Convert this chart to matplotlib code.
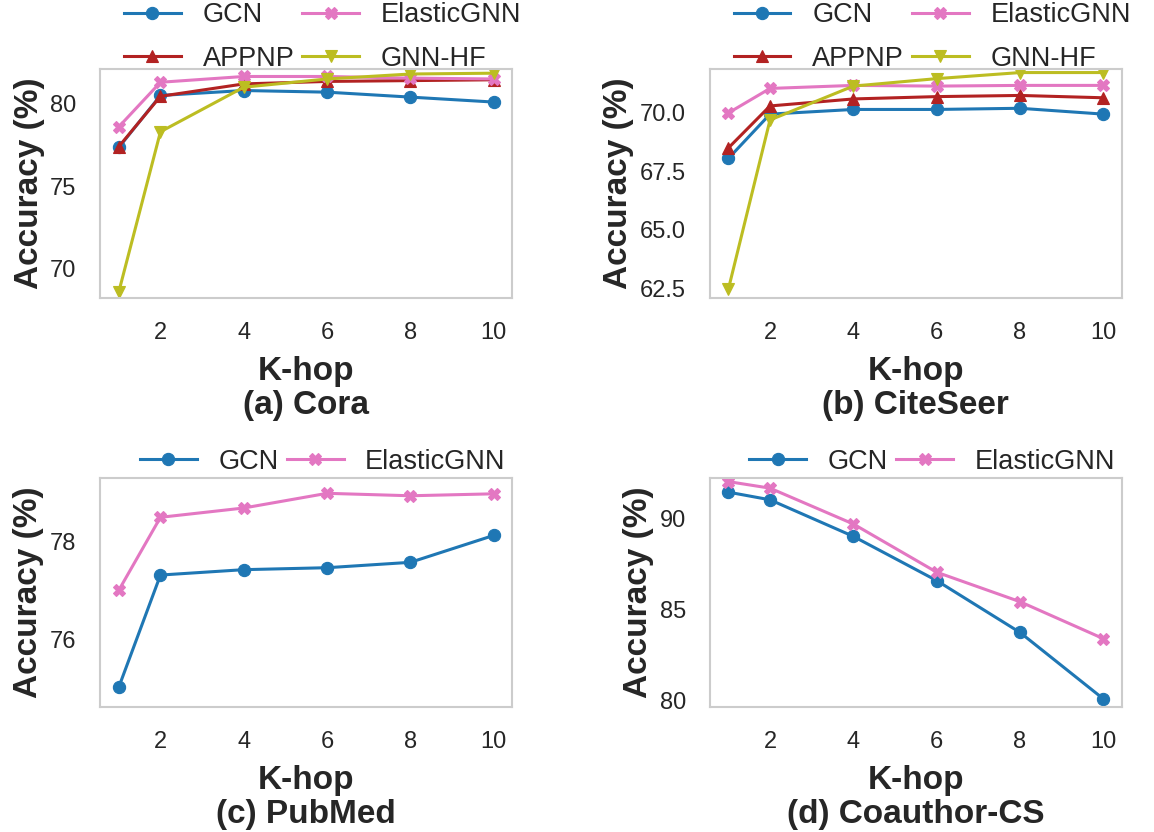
import matplotlib
matplotlib.use("Agg")
import matplotlib.pyplot as plt

# hop counts on the x axis
k_hops = [1, 2, 4, 6, 8, 10]

# accuracy (%) per dataset
cora_gcn = [77.35, 80.5, 80.8, 80.7, 80.4, 80.1]
cora_appnp = [77.4, 80.45, 81.2, 81.35, 81.4, 81.45]
cora_elastic = [78.6, 81.3, 81.65, 81.65, 81.55, 81.5]
cora_gnnhf = [68.6, 78.3, 81.0, 81.5, 81.8, 81.85]

citeseer_gcn = [68.05, 69.95, 70.15, 70.15, 70.2, 69.95]
citeseer_appnp = [68.5, 70.3, 70.6, 70.7, 70.75, 70.65]
citeseer_elastic = [70.0, 71.05, 71.18, 71.15, 71.18, 71.18]
citeseer_gnnhf = [62.45, 69.7, 71.15, 71.47, 71.73, 71.73]

pubmed_gcn = [75.02, 77.31, 77.42, 77.46, 77.57, 78.12]
pubmed_elastic = [77.0, 78.49, 78.68, 78.98, 78.93, 78.97]

cs_gcn = [91.46, 91.04, 89.03, 86.6, 83.75, 80.1]
cs_elastic = [92.04, 91.68, 89.71, 87.06, 85.44, 83.41]

titles = ["(a) Cora", "(b) CiteSeer", "(c) PubMed", "(d) Coauthor-CS"]
xticks = [2, 4, 6, 8, 10]
yticks = [[70, 75, 80], [62.5, 65.0, 67.5, 70.0], [76, 78], [80, 85, 90]]
ylims = [(68.22, 82.1), (62.07, 71.88), (74.61, 79.29), (79.64, 92.23)]

plt.rcParams['font.family'] = ['Liberation Sans', 'DejaVu Sans']
plt.rcParams['text.color'] = '#262626'
plt.rcParams['axes.labelcolor'] = '#262626'
plt.rcParams['xtick.color'] = '#262626'
plt.rcParams['ytick.color'] = '#262626'

styles = {
    'GCN': dict(color='#1f77b4', marker='o'),
    'APPNP': dict(color='#b22222', marker='^'),
    'ElasticGNN': dict(color='#e377c2', marker='X'),
    'GNN-HF': dict(color='#bcbd22', marker='v'),
}

panels = [
    {'GCN': cora_gcn, 'APPNP': cora_appnp, 'ElasticGNN': cora_elastic, 'GNN-HF': cora_gnnhf},
    {'GCN': citeseer_gcn, 'APPNP': citeseer_appnp, 'ElasticGNN': citeseer_elastic, 'GNN-HF': citeseer_gnnhf},
    {'GCN': pubmed_gcn, 'ElasticGNN': pubmed_elastic},
    {'GCN': cs_gcn, 'ElasticGNN': cs_elastic},
]

fig, axes = plt.subplots(2, 2, figsize=(11.54, 8.32), dpi=100)
plt.subplots_adjust(left=0.0867, right=0.9723, top=0.917, bottom=0.150,
                    wspace=0.478, hspace=0.786)

for i, ax in enumerate(axes.flat):
    for name, vals in panels[i].items():
        ax.plot(k_hops, vals, label=name, linewidth=2.2, markersize=8.8,
                markeredgewidth=0.8, markeredgecolor=styles[name]['color'], **styles[name])
    ax.set_xticks(xticks)
    ax.set_yticks(yticks[i])
    ax.set_ylim(*ylims[i])
    ax.tick_params(axis='both', length=0, pad=17, labelsize=17)
    ax.grid(False)
    for sp in ax.spines.values():
        sp.set_color('#cccccc')
        sp.set_linewidth(1.5)
    ax.set_xlabel("K-hop\n" + titles[i], fontsize=24, fontweight='bold',
                  labelpad=9, linespacing=1.1)
    ax.set_ylabel("Accuracy (%)", fontsize=24, fontweight='bold', labelpad=4)
    # two-row legends sit a little lower than the single-row ones
    anchor_y = 0.882 if i < 2 else 0.909
    ax.legend(loc='lower center', bbox_to_anchor=(0.54, anchor_y), ncol=2, frameon=False,
              fontsize=19.5, handlelength=2.1, handletextpad=0.8, columnspacing=0.3,
              labelspacing=0.65)

plt.savefig('out.png', dpi=100)
